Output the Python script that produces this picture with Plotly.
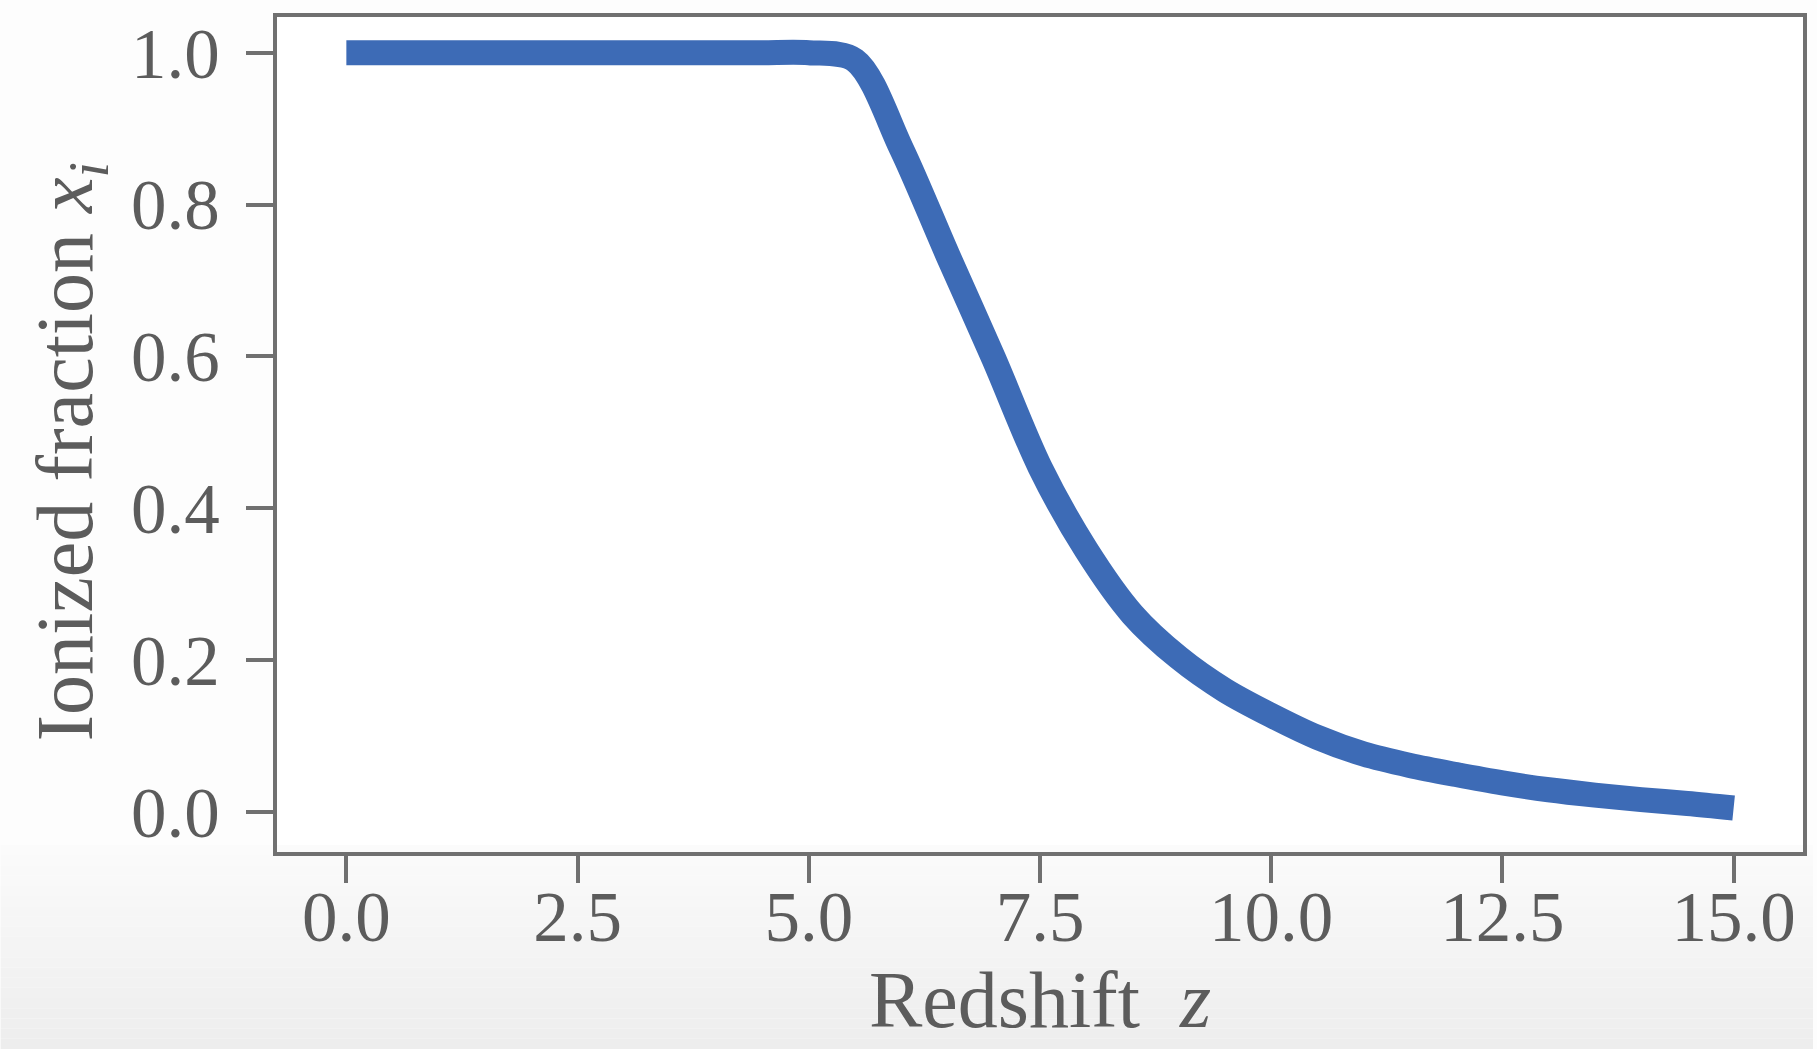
import plotly.graph_objects as go

# Data
redshift = [0.0, 0.5, 1.0, 1.5, 2.0, 2.5, 3.0, 3.5, 4.0, 4.5, 5.0, 5.5, 6.0, 6.5,
            7.0, 7.5, 8.0, 8.5, 9.0, 9.5, 10.0, 10.5, 11.0, 11.5, 12.0, 12.5,
            13.0, 13.5, 14.0, 14.5, 15.0]
ionized_fraction = [1.0, 1.0, 1.0, 1.0, 1.0, 1.0, 1.0, 1.0, 1.0, 1.0, 1.0, 0.99,
                    0.874, 0.734, 0.597, 0.454, 0.345, 0.260, 0.203, 0.160, 0.127,
                    0.098, 0.076, 0.061, 0.049, 0.038, 0.029, 0.022, 0.016, 0.011,
                    0.005]
x_ticks = [0.0, 2.5, 5.0, 7.5, 10.0, 12.5, 15.0]
y_ticks = [0.0, 0.2, 0.4, 0.6, 0.8, 1.0]

W, H = 1817, 1049
ML, MR, MT, MB = 277, 10, 17, 197
plot_w = W - ML - MR
plot_h = H - MT - MB

FONT = "Liberation Serif"
TXT = "#5c5c5c"
AX = "#707070"

fig = go.Figure()
fig.add_trace(go.Scatter(
    x=redshift, y=ionized_fraction, mode="lines",
    line=dict(color="#3d6bb6", width=25, shape="spline", smoothing=0.9),
    showlegend=False, hoverinfo="skip",
))

# background gradient below the plot area
shapes = []
n = 20
top_px, bot_px = 845, H
for i in range(n):
    y0p = top_px + (bot_px - top_px) * i / n
    y1p = top_px + (bot_px - top_px) * (i + 1) / n
    g = int(round(251 - (251 - 237) * (i + 0.5) / n))
    shapes.append(dict(
        type="rect", xref="paper", yref="paper", layer="below",
        x0=-ML / plot_w, x1=1 + MR / plot_w,
        y0=(H - MB - y1p) / plot_h, y1=(H - MB - y0p) / plot_h,
        fillcolor=f"rgb({g},{g},{g})", line=dict(width=0),
    ))

axis_common = dict(
    showgrid=False, zeroline=False, showline=True, linecolor=AX, linewidth=4,
    mirror=True, ticks="outside", ticklen=27, tickwidth=4, tickcolor=AX,
    tickfont=dict(family=FONT, size=71, color=TXT),
)

fig.update_layout(
    width=W, height=H,
    margin=dict(l=ML, r=MR, t=MT, b=MB),
    paper_bgcolor="#fdfdfd", plot_bgcolor="#ffffff",
    shapes=shapes,
    xaxis=dict(
        range=[-0.75, 15.75], tickvals=x_ticks,
        ticktext=[f"{v:.1f}" for v in x_ticks],
        ticklabelstandoff=-27,
        title=dict(text="Redshift  <i>z</i>", font=dict(family=FONT, size=80, color=TXT), standoff=9),
        **axis_common,
    ),
    yaxis=dict(
        range=[-0.053, 1.047], tickvals=y_ticks,
        ticktext=[f"{v:.1f}" for v in y_ticks],
        ticklabelstandoff=12,
        **axis_common,
    ),
    annotations=[dict(
        text="Ionized fraction <i>x</i><sub><i>i</i></sub>",
        xref="paper", yref="paper",
        x=(70 - ML) / plot_w, y=(H - MB - 452) / plot_h,
        xanchor="center", yanchor="middle", textangle=-90, showarrow=False,
        font=dict(family=FONT, size=80, color=TXT),
    )],
)

fig.write_html("out.html")
